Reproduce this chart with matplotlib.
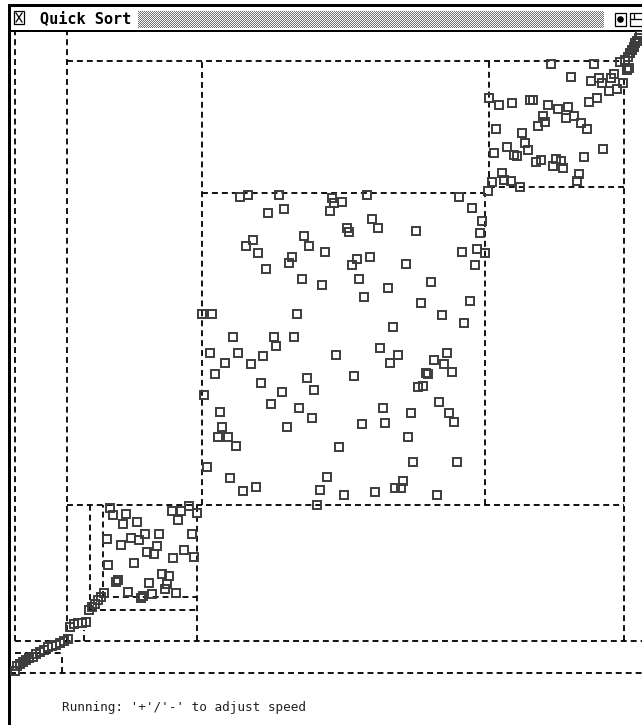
import numpy as np
import matplotlib
matplotlib.use("Agg")
import matplotlib.pyplot as plt
from matplotlib.patches import Rectangle, Circle

# quick sort snapshot: (array index, element value)
bottom_run = [(5, 9), (7, 14), (10, 16), (13, 18), (16, 20), (19, 22), (23, 23), (26, 26),
              (30, 28), (34, 30), (38, 33), (42, 34), (46, 35), (50, 37), (54, 39), (58, 41),
              (60, 53), (64, 56), (68, 57), (72, 57), (76, 58), (79, 70), (82, 73), (85, 76),
              (88, 80), (91, 83), (94, 87)]

low_block = [(100, 172), (103, 165), (116, 166), (113, 156), (127, 158), (97, 141), (111, 135),
             (121, 142), (129, 140), (135, 146), (149, 146), (147, 134), (137, 128), (144, 126),
             (163, 122), (174, 130), (184, 123), (182, 146), (98, 115), (124, 117), (108, 100),
             (106, 98), (152, 106), (159, 104), (139, 97), (157, 96), (155, 91), (166, 87),
             (118, 88), (131, 82), (133, 84), (142, 86), (162, 169), (171, 169), (179, 174),
             (168, 160), (187, 167)]

mid_block = [(230, 483), (238, 485), (269, 485), (322, 482), (324, 477), (332, 478), (357, 485),
             (449, 483), (478, 489), (482, 498), (258, 467), (274, 471), (320, 469), (462, 472),
             (362, 461), (368, 452), (337, 452), (339, 448), (406, 449), (472, 459), (470, 447),
             (243, 440), (236, 434), (248, 427), (294, 444), (299, 434), (315, 428), (282, 423),
             (279, 417), (347, 421), (342, 415), (360, 423), (452, 428), (467, 431), (475, 427),
             (465, 415), (396, 416), (256, 411), (292, 401), (312, 395), (349, 401), (378, 392),
             (421, 398), (354, 383), (411, 377), (460, 379), (192, 366), (202, 366), (287, 366),
             (432, 365), (454, 357), (383, 353), (223, 343), (264, 343), (266, 334), (284, 343),
             (200, 327), (228, 327), (215, 317), (241, 316), (253, 324), (326, 325), (370, 332),
             (388, 325), (380, 317), (437, 327), (424, 320), (434, 316), (205, 306), (344, 304),
             (416, 307), (418, 306), (442, 308), (251, 297), (297, 302), (304, 290), (272, 288),
             (194, 285), (408, 293), (413, 294), (261, 276), (210, 268), (289, 272), (302, 262),
             (373, 272), (401, 267), (429, 278), (439, 267), (444, 258), (212, 253), (277, 253),
             (352, 256), (375, 257), (208, 243), (218, 243), (226, 234), (329, 233), (398, 243),
             (197, 213), (403, 218), (447, 218), (220, 202), (317, 203), (393, 199), (233, 189),
             (246, 193), (310, 190), (334, 185), (365, 188), (385, 192), (391, 192), (427, 185),
             (307, 175)]

top_block = [(541, 616), (584, 616), (610, 618), (561, 603), (581, 599), (589, 602), (592, 597),
             (601, 602), (604, 606), (613, 597), (599, 589), (607, 591), (479, 582), (489, 575),
             (502, 577), (520, 580), (523, 580), (538, 575), (548, 571), (558, 573), (556, 562),
             (564, 564), (571, 557), (577, 551), (579, 578), (587, 582), (533, 564), (535, 558),
             (528, 554), (486, 551), (512, 547), (515, 537), (518, 530), (497, 533), (504, 525),
             (507, 524), (484, 527), (526, 518), (531, 520), (546, 521), (551, 519), (543, 514),
             (553, 512), (574, 523), (593, 531), (492, 507), (494, 500), (501, 499), (510, 493),
             (569, 506), (567, 499)]

top_run = [(615, 620), (618, 623), (620, 627), (622, 630), (624, 633), (625, 637), (627, 639),
           (629, 642), (630, 645), (619, 612), (617, 610)]

# partition boxes drawn by the sort: (value, idx_from, idx_to) and (idx, value_from, value_to)
h_bounds = [(619, 57, 614), (493, 479, 614), (487, 192, 475), (175, 57, 614), (83, 93, 187),
            (70, 80, 187), (39, 5, 632), (27, 5, 52), (7, 0, 632)]
v_bounds = [(5, 39, 649), (57, 39, 649), (614, 39, 619), (192, 175, 619), (479, 493, 619),
            (475, 175, 487), (80, 70, 175), (93, 83, 175), (187, 39, 175), (52, 7, 27), (74, 39, 50)]

title = "Quick Sort"
status = "Running: '+'/'-' to adjust speed"

W, H = 642, 725
fig = plt.figure(figsize=(W / 100, H / 100), dpi=100)
fig.patch.set_facecolor("white")

# window decoration, in pixel units
frame = fig.add_axes([0, 0, 1, 1])
frame.set_xlim(0, W)
frame.set_ylim(H, 0)
frame.axis("off")
frame.add_patch(Rectangle((8, 4), W - 8, 3, color="black", lw=0))
frame.add_patch(Rectangle((8, 4), 3, H - 4, color="black", lw=0))
frame.add_patch(Rectangle((11, 30), W - 11, 2, color="black", lw=0))
frame.add_patch(Rectangle((14, 11), 10, 13, fill=False, ec="black", lw=0.9))
frame.plot([16, 22], [13, 22], color="black", lw=0.9)
frame.plot([16, 22], [22, 13], color="black", lw=0.9)
frame.text(40, 19, title, fontsize=11, fontweight="bold", family="DejaVu Sans Mono",
           va="center", ha="left")
frame.add_patch(Rectangle((615, 13), 11, 13, fill=False, ec="black", lw=0.9))
frame.add_patch(Circle((620.5, 19.5), 2.6, color="black"))
frame.add_patch(Rectangle((630, 13), 14, 13, fill=False, ec="black", lw=0.9))
frame.plot([630, 642], [19, 19], color="black", lw=0.9)
frame.plot([634, 634], [13, 19], color="black", lw=0.9)
frame.text(62, 708, status, fontsize=9.2, family="DejaVu Sans Mono", va="center", ha="left",
           color="#222222")

yy, xx = np.mgrid[0:17, 0:466]
stipple = np.where((xx + yy) % 2 == 0, 0.45, 0.97)
fig.figimage(stipple, xo=138, yo=H - 28, origin="upper", cmap="gray", vmin=0, vmax=1,
             resample=False)

# sort view
ax = fig.add_axes([10 / W, 45 / H, 632 / W, 649 / H])
ax.set_xlim(0, 632)
ax.set_ylim(0, 649)
ax.axis("off")

dash = (0, (3.3, 2.2))
ax.hlines([h[0] for h in h_bounds], [h[1] for h in h_bounds], [h[2] for h in h_bounds],
          colors="black", linestyles=dash, linewidth=1.3)
ax.vlines([v[0] for v in v_bounds], [v[1] for v in v_bounds], [v[2] for v in v_bounds],
          colors="black", linestyles=dash, linewidth=1.3)

for pts in [bottom_run, low_block, mid_block, top_block, top_run]:
    xs = [p[0] for p in pts]
    ys = [p[1] for p in pts]
    ax.plot(xs, ys, "s", mfc="none", mec="#3c3c3c", ms=6.4, mew=1.4, ls="none")

fig.savefig("out.png", dpi=100)
